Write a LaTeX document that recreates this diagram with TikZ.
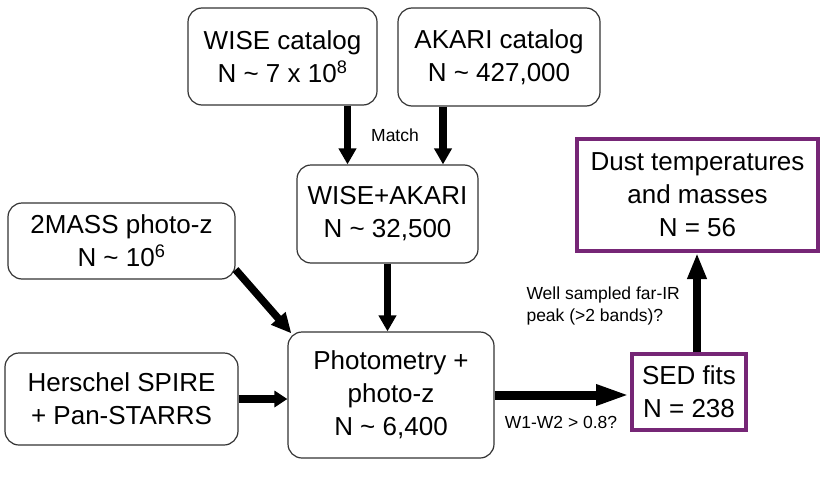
\documentclass[tikz,border=0pt]{standalone}
\usepackage{fontspec}
\setmainfont{Liberation Sans}
\usepackage{tikz}
\usetikzlibrary{arrows.meta}
\usepackage{xcolor}
\definecolor{sedpurple}{RGB}{118,38,118}

\begin{document}
\begin{tikzpicture}[x=1pt,y=-1pt,
    box/.style={draw=black!80, line width=1.2pt, rounded corners=14pt, align=center,
        inner sep=0pt, font=\fontsize{26}{33}\selectfont},
    result/.style={draw=sedpurple, line width=4pt, align=center,
        inner sep=0pt, font=\fontsize{26}{33}\selectfont},
    arr/.style={line width=7.5pt, -{Triangle[length=16pt,width=17pt]}},
    small/.style={font=\fontsize{17.5}{22}\selectfont, align=left}]
\useasboundingbox (0,0) rectangle (830,479);

% Catalogs
\node[box, minimum width=189pt, minimum height=97pt] (wise) at (282.5,56.5)
    {WISE catalog\\N \textasciitilde{} 7 x 10\textsuperscript{8}};
\node[box, minimum width=202pt, minimum height=98pt] (akari) at (499,57)
    {AKARI catalog\\N \textasciitilde{} 427,000};
\node[box, minimum width=181pt, minimum height=98pt] (wiseakari) at (387.5,214)
    {WISE+AKARI\\N \textasciitilde{} 32,500};
\node[box, minimum width=227pt, minimum height=76pt] (twomass) at (121.5,241)
    {2MASS photo-z\\N \textasciitilde{} 10\textsuperscript{6}};
\node[box, minimum width=233pt, minimum height=92pt] (herschel) at (121.5,399)
    {Herschel SPIRE\\+ Pan-STARRS};
\node[box, minimum width=206pt, minimum height=126pt] (phot) at (391,395)
    {Photometry +\\photo-z\\N \textasciitilde{} 6,400};

% Results
\node[result, minimum width=114pt, minimum height=76pt] (sed) at (689,392)
    {SED fits\\N = 238};
\node[result, minimum width=241pt, minimum height=112pt] (dust) at (697.5,195)
    {Dust temperatures\\and masses\\N = 56};

% Arrows
\draw[arr] ([xshift=65pt]wise.south) -- ([xshift=65pt]wise.south |- wiseakari.north);
\draw[arr] ([xshift=-56pt]akari.south) -- ([xshift=-56pt]akari.south |- wiseakari.north);
\node[small] (match) at (395,135) {Match};
\draw[arr] (wiseakari.south) -- (wiseakari.south |- phot.north);
\draw[arr, -{Triangle[length=20pt,width=18pt]}] ([yshift=10pt]twomass.south east)
    -- ([xshift=4pt,yshift=-2pt]phot.north west);
\draw[arr, -{Triangle[length=13pt,width=16pt]}] (herschel.east) -- (herschel.east -| phot.west);
\draw[arr, line width=9pt, -{Triangle[length=34pt,width=19pt]}] (phot.east) -- (phot.east -| sed.west);
\node[small] (color) at (561,422) {W1-W2 > 0.8?};
\draw[arr, -{Triangle[length=26pt,width=18pt]}] ([xshift=8pt]sed.north)
    -- ([xshift=8pt]sed.north |- dust.south);
\node[small, anchor=west] (peak) at (523,306) {Well sampled far-IR\\peak (>2 bands)?};
\end{tikzpicture}
\end{document}
